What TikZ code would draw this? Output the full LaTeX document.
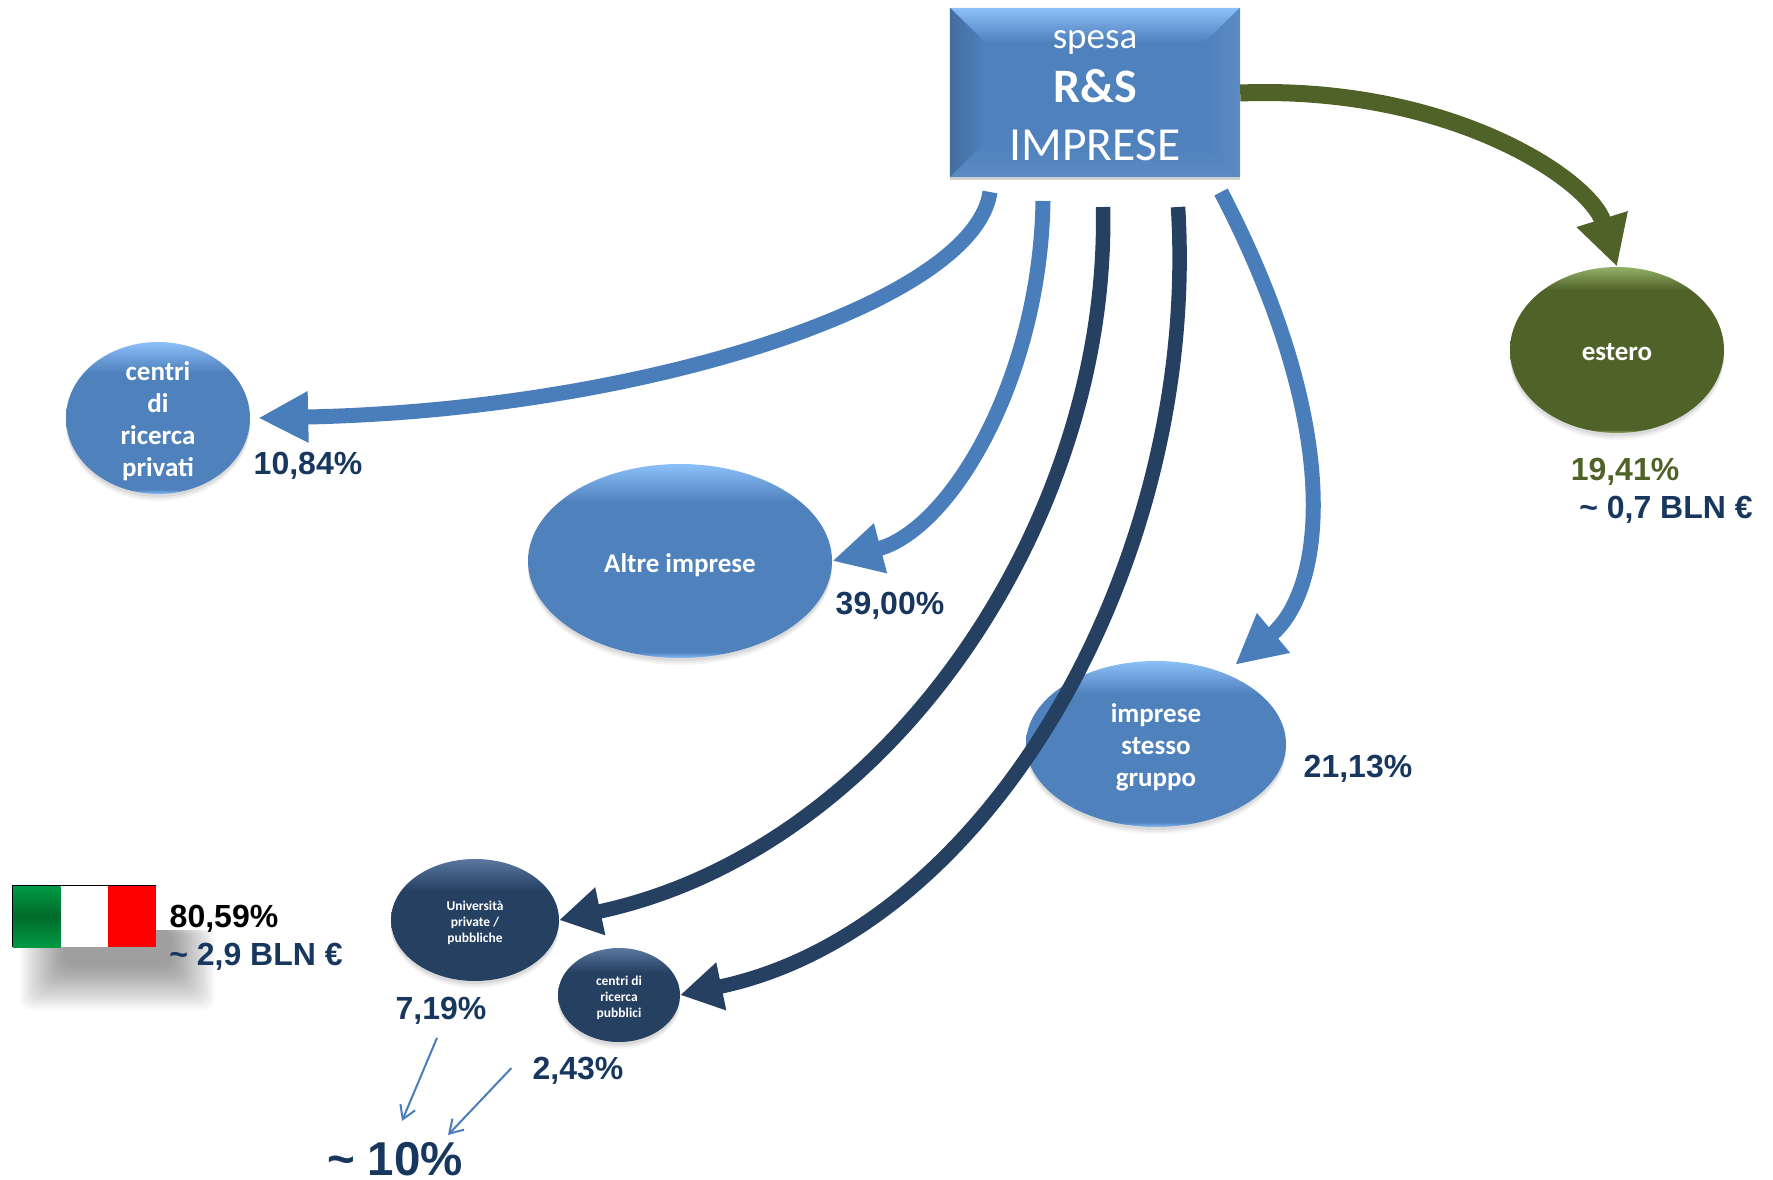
\documentclass[tikz,border=0pt]{standalone}
\usepackage{xcolor}
\usepackage{fontspec}
\usepackage{tikz}
\usetikzlibrary{shapes.geometric}
\usetikzlibrary{shadows}
\usetikzlibrary{arrows.meta}
\setmainfont{Carlito}
\newfontfamily\numfont{Liberation Sans}
\definecolor{azzurro}{HTML}{4F81BD}
\definecolor{azzurrolight}{HTML}{8CC0F8}
\definecolor{freccia}{HTML}{4A7EBB}
\definecolor{notte}{HTML}{254061}
\definecolor{nottelight}{HTML}{5A779F}
\definecolor{scritta}{HTML}{17375E}
\definecolor{oliva}{HTML}{4F6228}
\definecolor{olivalight}{HTML}{93B068}
\definecolor{verdechiaro}{HTML}{009A44}
\definecolor{verdescuro}{HTML}{006B2B}
\pgfdeclareverticalshading{glossazzurro}{100bp}{color(0bp)=(azzurro); color(25bp)=(azzurrolight); color(26.5bp)=(azzurro); color(65bp)=(azzurro); color(75bp)=(azzurrolight); color(100bp)=(azzurrolight)}
\pgfdeclareverticalshading{glossnotte}{100bp}{color(0bp)=(notte); color(25bp)=(notte); color(62bp)=(notte); color(75bp)=(nottelight); color(100bp)=(nottelight)}
\pgfdeclareverticalshading{glossoliva}{100bp}{color(0bp)=(oliva); color(25bp)=(olivalight); color(26bp)=(oliva); color(68bp)=(oliva); color(75bp)=(olivalight); color(100bp)=(olivalight)}

\begin{document}
\begin{tikzpicture}[x=1pt,y=-1pt,
	softshadow/.style={drop shadow={opacity=.08,shadow xshift=0pt,shadow yshift=-7pt},
		drop shadow={opacity=.1,shadow xshift=0pt,shadow yshift=-5pt},
		drop shadow={opacity=.15,shadow xshift=0pt,shadow yshift=-3pt}},
	blob/.style={ellipse,inner sep=-15pt,align=center,text=white,font=\fontsize{27}{32}\selectfont\bfseries,
		softshadow,execute at begin node={\rule{0pt}{#1}}},
	blob/.default=0pt,
	smallblob/.style={blob,font=\fontsize{13.5}{16}\selectfont\bfseries},
	bluearrow/.style={-{Triangle[length=50pt,width=48pt]},line width=15pt,freccia},
	darkarrow/.style={-{Triangle[length=42pt,width=46pt]},line width=14.5pt,notte},
	greenarrow/.style={-{Triangle[length=50pt,width=50pt]},line width=17pt,oliva},
	thinarrow/.style={-{Straight Barb[length=13pt,width=16pt]},line width=2pt,freccia},
	perc/.style={font=\numfont\fontsize{32}{32}\selectfont\bfseries,text=scritta,inner sep=0pt},
	boxtext/.style={anchor=base,text=white,inner sep=0pt}]
  \useasboundingbox (0,0) rectangle (1773,1180);

  \foreach \i in {0,...,23}
    \fill[black,opacity=.018,rounded corners=10pt] (20+1.9*\i,930) rectangle (215-1.9*\i,1010-1.9*\i);

  \node[fill=azzurro,minimum width=290pt,minimum height=169pt,inner sep=0pt,
    drop shadow={opacity=.35,shadow xshift=0pt,shadow yshift=-3pt}] (spesa) at (1095,92.5) {};
  \shade[top color=azzurrolight,bottom color=azzurro] (spesa.north west) -- (spesa.north east) -- (1205,42) -- (985,42) -- cycle;
  \shade[left color=azzurro!85!black,right color=azzurro] (spesa.north west) -- (985,42) -- (985,143) -- (spesa.south west) -- cycle;
  \shade[right color=azzurro!92!white,left color=azzurro] (spesa.north east) -- (1205,42) -- (1205,143) -- (spesa.south east) -- cycle;
  \shade[bottom color=azzurro!92!white,top color=azzurro] (spesa.south west) -- (985,143) -- (1205,143) -- (spesa.south east) -- cycle;
  \node[boxtext,font=\fontsize{37}{37}\selectfont] (spesauno) at (1095,49) {spesa};
  \node[boxtext,font=\fontsize{48}{48}\selectfont\bfseries] (spesadue) at (1095,103) {R\&S};
  \node[boxtext,font=\fontsize{47.5}{47.5}\selectfont] (spesatre) at (1095,160.5) {IMPRESE};

  \node[blob,shading=glossazzurro,minimum width=184pt,minimum height=152pt] (cpriv) at (158,418) {\mbox{}\\[-6pt]centri\\di\\ricerca\\privati};
  \node[blob=28pt,shading=glossazzurro,minimum width=304pt,minimum height=194pt] (altre) at (680,561) {Altre imprese};
  \node[blob,shading=glossazzurro,minimum width=260pt,minimum height=166pt] (gruppo) at (1156,744) {\mbox{}\\[-6pt]imprese\\stesso\\gruppo};
  \node[blob=22pt,shading=glossoliva,minimum width=214pt,minimum height=166pt] (estero) at (1617,350) {estero};
  \node[smallblob,shading=glossnotte,minimum width=168pt,minimum height=122pt] (univ) at (475,920) {\mbox{}\\[-1pt]Università\\private /\\pubbliche};
  \node[smallblob,shading=glossnotte,minimum width=122pt,minimum height=94pt] (cpub) at (619,995) {\mbox{}\\[-1pt]centri di\\ricerca\\pubblici};

  \coordinate (partea) at (990,192);
  \coordinate (parteb) at (1043,201);
  \coordinate (partec) at (1103,207);
  \coordinate (parted) at (1178,207);
  \coordinate (partee) at (1221,192);
  \draw[bluearrow] (partea) .. controls (975,300) and (650,410) .. ([xshift=8pt]cpriv.east);
  \draw[bluearrow] (parteb) .. controls (1040,380) and (950,530) .. (altre.east);
  \draw[darkarrow] (partec) .. controls (1110,520) and (890,850) .. (univ.east);
  \draw[darkarrow] (parted) .. controls (1200,560) and (990,930) .. (cpub.east);
  \draw[bluearrow] (partee) .. controls (1345,430) and (1325,590) .. ([xshift=9pt,yshift=9pt]gruppo.45);
  \draw[greenarrow] (spesa.east |- 0,93) .. controls (1450,85) and (1590,180) .. (estero.north);

  \node[perc] (pcpriv) at (308,466) {10,84\%};
  \node[perc] (paltre) at (890,606) {39,00\%};
  \node[perc] (pgruppo) at (1358,769) {21,13\%};
  \node[perc,text=oliva] (pestero) at (1625,472) {19,41\%};
  \node[perc] (bestero) at (1666,510) {\char`~\ 0,7 BLN €};
  \node[perc,text=black] (pitalia) at (224,919) {80,59\%};
  \node[perc] (bitalia) at (256,957) {\char`~\ 2,9 BLN €};
  \node[perc] (puniv) at (441,1011) {7,19\%};
  \node[perc] (pcpub) at (578,1071) {2,43\%};
  \node[perc,font=\numfont\fontsize{47.5}{47.5}\selectfont\bfseries] (totale) at (395,1159) {\char`~\ 10\%};

  \draw[thinarrow] ([xshift=-4pt,yshift=-13pt]puniv.south) -- ([xshift=7pt,yshift=21pt]totale.north);
  \draw[thinarrow] ([xshift=-21pt,yshift=3pt]pcpub.west) -- ([xshift=53pt,yshift=7pt]totale.north);

  \node[minimum width=47.7pt,minimum height=61pt,inner sep=0pt,top color=verdechiaro,bottom color=verdechiaro,middle color=verdescuro] (verde) at (36.8,916.5) {};
  \node[minimum width=47.7pt,minimum height=61pt,inner sep=0pt,fill=white] (bianco) at (84.5,916.5) {};
  \node[minimum width=47.7pt,minimum height=61pt,inner sep=0pt,fill=red] (rosso) at (132.2,916.5) {};
  \draw[black,line width=1pt] (verde.south west) -- (verde.north west) -- (rosso.north east);
\end{tikzpicture}
\end{document}
